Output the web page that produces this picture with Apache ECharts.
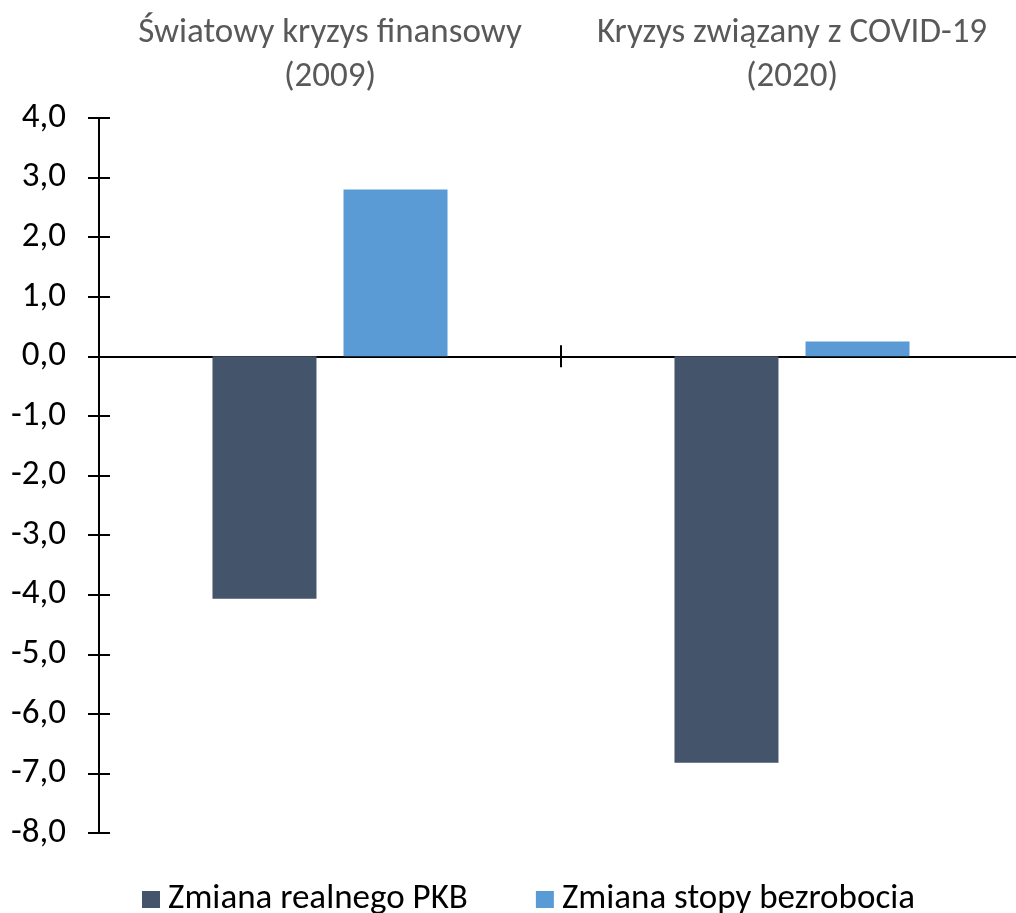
<!DOCTYPE html>
<html>
<head>
<meta charset="utf-8">
<script src="https://cdn.jsdelivr.net/npm/echarts@6/dist/echarts.min.js"></script>
<style>
html,body{margin:0;padding:0;background:#fff;}
#chart{width:1016px;height:913px;}
</style>
</head>
<body>
<div id="chart"></div>
<script>
var categories = ['Światowy kryzys finansowy\n(2009)', 'Kryzys związany z COVID-19\n(2020)'];
var seriesNames = ['Zmiana realnego PKB', 'Zmiana stopy bezrobocia'];
var gdpChange = [-4.07, -6.82];
var unemploymentChange = [2.80, 0.25];
var yTicks = {min: -8, max: 4, step: 1};

var FONT = 'Carlito, Calibri, "Open Sans", sans-serif';
var chart = echarts.init(document.getElementById('chart'), null, {renderer: 'canvas'});
var gridLayout = {left: 99, right: -7, top: 118, bottom: 80, outerBoundsMode: 'none', containLabel: false};
var option = {
  animation: false,
  backgroundColor: '#fff',
  textStyle: {fontFamily: FONT},
  grid: [
    Object.assign({}, gridLayout),
    Object.assign({}, gridLayout)
  ],
  legend: {
    data: seriesNames,
    left: 137,
    top: 877,
    itemWidth: 18,
    itemHeight: 17,
    itemGap: 68,
    icon: 'rect',
    textStyle: {fontSize: 35, color: '#000', fontFamily: FONT, padding: [0, 0, 0, 3]}
  },
  xAxis: [
    {
      gridIndex: 0, type: 'category', data: categories, position: 'bottom',
      axisLine: {onZero: true, lineStyle: {color: '#000', width: 2}},
      axisTick: {show: true, inside: false, length: 11, lineStyle: {color: '#000', width: 2}},
      axisLabel: {show: false}
    },
    {
      gridIndex: 0, type: 'category', data: categories, position: 'top',
      axisLine: {show: false, onZero: false},
      axisTick: {show: false},
      axisLabel: {show: true, color: '#595959', fontSize: 35, lineHeight: 44, margin: 19, fontFamily: FONT, interval: 0}
    },
    {
      gridIndex: 1, type: 'category', data: categories, position: 'bottom',
      axisLine: {show: false, onZero: true},
      axisTick: {show: true, inside: true, length: 11, lineStyle: {color: '#000', width: 2}},
      axisLabel: {show: false}
    }
  ],
  yAxis: [
    {
      gridIndex: 0, type: 'value', min: yTicks.min, max: yTicks.max, interval: yTicks.step,
      axisLine: {show: true, lineStyle: {color: '#000', width: 2}},
      axisTick: {show: true, inside: false, length: 11, lineStyle: {color: '#000', width: 2}},
      splitLine: {show: false},
      axisLabel: {color: '#000', fontSize: 35, margin: 33, fontFamily: FONT,
        formatter: function (v) { return v.toFixed(1).replace('.', ','); }}
    },
    {
      gridIndex: 1, type: 'value', min: yTicks.min, max: yTicks.max, interval: yTicks.step,
      axisLine: {show: false},
      axisTick: {show: true, inside: true, length: 11, lineStyle: {color: '#000', width: 2}},
      splitLine: {show: false},
      axisLabel: {show: false}
    }
  ],
  series: [
    {
      name: seriesNames[0], type: 'bar', xAxisIndex: 0, yAxisIndex: 0,
      data: gdpChange, barWidth: 104, barGap: '26%',
      itemStyle: {color: '#44546A'}
    },
    {
      name: seriesNames[1], type: 'bar', xAxisIndex: 0, yAxisIndex: 0,
      data: unemploymentChange, barWidth: 104, barGap: '26%',
      itemStyle: {color: '#5B9BD5'}
    }
  ]
};
chart.setOption(option);
</script>
</body>
</html>
